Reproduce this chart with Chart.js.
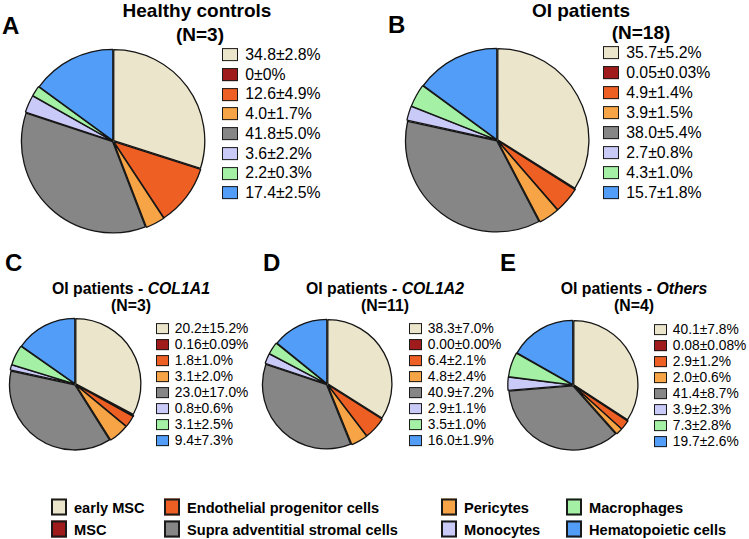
<!DOCTYPE html>
<html>
<head>
<meta charset="utf-8">
<script src="https://cdn.jsdelivr.net/npm/chart.js@4.4.1/dist/chart.umd.min.js"></script>
<style>
body{margin:0;background:#fff;font-family:"Liberation Sans",Arial,Helvetica,sans-serif;color:#000;}
#page{position:relative;width:749px;height:539px;overflow:hidden;background:#fff;}
.letter{position:absolute;font-weight:bold;font-size:24px;line-height:1;transform:translateY(-50%);}
.title{position:absolute;font-weight:bold;white-space:nowrap;line-height:1;transform:translate(-50%,-50%);}
.pie{position:absolute;}
.row{position:absolute;white-space:nowrap;line-height:1;display:flex;align-items:center;transform:translateY(-50%);}
.sw{display:inline-block;border:1.5px solid #1a1a1a;box-sizing:border-box;flex:none;}
.key{position:absolute;display:flex;align-items:center;transform:translateY(-50%);}
.key .sw{border-width:2px;width:16px;height:17px;}
.key span{display:inline-block;font-weight:bold;font-size:14.6px;white-space:nowrap;margin-left:7px;}
</style>
</head>
<body>
<div id="page"></div>
<script>
const cellTypes=['early MSC','MSC','Endothelial progenitor cells','Pericytes','Supra adventitial stromal cells','Monocytes','Macrophages','Hematopoietic cells'];
const sliceColors=['#EBE5CB','#A01B1B','#EE5F24','#F6A445','#868686','#CACAF8','#A4F1A6','#519DF7'];

const healthyMean=[34.8,0,12.6,4.0,41.8,3.6,2.2,17.4];
const healthyText=['34.8±2.8%','0±0%','12.6±4.9%','4.0±1.7%','41.8±5.0%','3.6±2.2%','2.2±0.3%','17.4±2.5%'];

const oiMean=[35.7,0.05,4.9,3.9,38.0,2.7,4.3,15.7];
const oiText=['35.7±5.2%','0.05±0.03%','4.9±1.4%','3.9±1.5%','38.0±5.4%','2.7±0.8%','4.3±1.0%','15.7±1.8%'];

const col1a1Mean=[20.2,0.16,1.8,3.1,23.0,0.8,3.1,9.4];
const col1a1Text=['20.2±15.2%','0.16±0.09%','1.8±1.0%','3.1±2.0%','23.0±17.0%','0.8±0.6%','3.1±2.5%','9.4±7.3%'];

const col1a2Mean=[38.3,0.00,6.4,4.8,40.9,2.9,3.5,16.0];
const col1a2Text=['38.3±7.0%','0.00±0.00%','6.4±2.1%','4.8±2.4%','40.9±7.2%','2.9±1.1%','3.5±1.0%','16.0±1.9%'];

const othersMean=[40.1,0.08,2.9,2.0,41.4,3.9,7.3,19.7];
const othersText=['40.1±7.8%','0.08±0.08%','2.9±1.2%','2.0±0.6%','41.4±8.7%','3.9±2.3%','7.3±2.8%','19.7±2.6%'];

const page=document.getElementById('page');

function el(cls,html,css){
  const d=document.createElement('div');
  d.className=cls;
  d.innerHTML=html;
  Object.assign(d.style,css);
  page.appendChild(d);
  return d;
}

// layout of each panel (positions only)
const panels=[
  {letter:'A',lx:2,ly:26,title:'Healthy controls',n:'(N=3)',tx:197,ty:10,nx:200,ny:34,tsize:19,
   cx:113,cy:141,r:91,legX:222,legY:55,step:19.7,sw:[16,13],fsize:15.8,values:healthyMean,labels:healthyText},
  {letter:'B',lx:388,ly:25,title:'OI patients',n:'(N=18)',tx:581,ty:10,nx:641,ny:32,tsize:19,
   cx:497,cy:140,r:91,legX:603,legY:53,step:20,sw:[16,13],fsize:15.8,values:oiMean,labels:oiText},
  {letter:'C',lx:5,ly:263,title:'OI patients - <i>COL1A1</i>',n:'(N=3)',tx:131,ty:289,nx:131,ny:306,tsize:15.8,
   cx:75,cy:384,r:65,legX:156,legY:329,step:16,sw:[13,11],fsize:13.8,values:col1a1Mean,labels:col1a1Text},
  {letter:'D',lx:263,ly:263,title:'OI patients - <i>COL1A2</i>',n:'(N=11)',tx:385,ty:289,nx:385,ny:306,tsize:15.8,
   cx:327,cy:384,r:64,legX:409,legY:329,step:16,sw:[13,11],fsize:13.8,values:col1a2Mean,labels:col1a2Text},
  {letter:'E',lx:500,ly:263,title:'OI patients - <i>Others</i>',n:'(N=4)',tx:634,ty:289,nx:634,ny:306,tsize:15.8,
   cx:573,cy:385,r:64,legX:654,legY:330,step:16,sw:[13,11],fsize:13.8,values:othersMean,labels:othersText}
];

const OFFSET=3, BW=1.3;

panels.forEach(p=>{
  el('letter',p.letter,{left:p.lx+'px',top:p.ly+'px'});
  el('title',p.title,{left:p.tx+'px',top:p.ty+'px',fontSize:p.tsize+'px'});
  el('title',p.n,{left:p.nx+'px',top:p.ny+'px',fontSize:p.tsize+'px'});

  const size=2*p.r+OFFSET+BW;
  const box=el('pie','',{left:(p.cx-size/2)+'px',top:(p.cy-size/2)+'px',width:size+'px',height:size+'px'});
  const cv=document.createElement('canvas');
  box.appendChild(cv);
  new Chart(cv,{
    type:'pie',
    data:{labels:cellTypes,datasets:[{data:p.values,backgroundColor:sliceColors,borderColor:'#151515',borderWidth:BW,offset:OFFSET}]},
    options:{responsive:true,maintainAspectRatio:false,animation:false,events:[],
      layout:{padding:0},
      plugins:{legend:{display:false},tooltip:{enabled:false}}}
  });

  p.labels.forEach((t,i)=>{
    el('row',`<span class="sw" style="width:${p.sw[0]}px;height:${p.sw[1]}px;background:${sliceColors[i]}"></span><span style="font-size:${p.fsize}px;margin-left:${p.sw[0]*0.45}px">${t}</span>`,
      {left:p.legX+'px',top:(p.legY+i*p.step)+'px'});
  });
});

// shared key at the bottom: two rows, four columns
const keyCols=[44,157,434,559];
const keyRows=[507,529];
const keyOrder=[[0,1],[2,4],[3,5],[6,7]];
keyOrder.forEach((pair,c)=>{
  pair.forEach((k,r)=>{
    el('key',`<span class="sw" style="background:${sliceColors[k]}"></span><span>${cellTypes[k]}</span>`,
      {left:keyCols[c]+'px',top:keyRows[r]+'px'});
  });
});
</script>
</body>
</html>
